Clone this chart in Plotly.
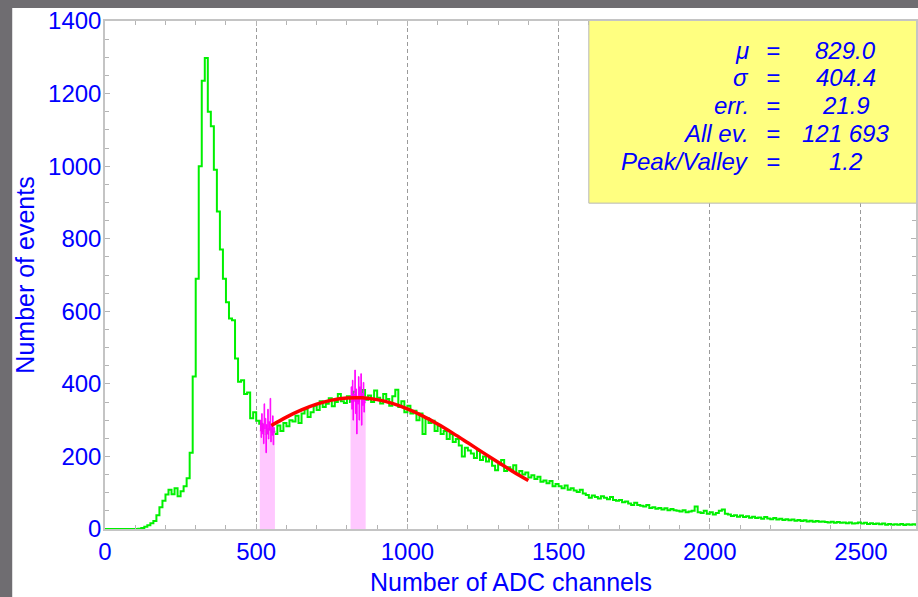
import numpy as np
import plotly.graph_objects as go

# ---------------- data ----------------
BIN_WIDTH = 10  # ADC channels per bin of the main spectrum
spectrum_counts = [
    0, 0, 0, 0, 0, 0, 0, 0, 0, 0, 0,            # 0-100
    1, 3, 6, 10, 16, 22, 38, 60, 78,            # 110-190
    95, 108, 96, 112, 90, 104, 118, 140, 210, 420,   # 200-290
    690, 1000, 1235, 1298, 1150, 1110, 990, 875, 770, 690,  # 300-390
    625, 580, 575, 470, 406, 410, 372, 376, 305, 322,  # 400-490
    298, 290, 270, 262, 275, 268, 262, 285, 270, 292,  # 500-590
    283, 300, 296, 312, 292, 318, 330, 309, 322, 340,  # 600-690
    328, 352, 336, 345, 360, 338, 350, 372, 352, 347,  # 700-790
    366, 350, 378, 352, 360, 383, 356, 368, 350, 382,  # 800-890
    362, 346, 372, 358, 340, 366, 384, 336, 352, 322,  # 900-990
    340, 318, 326, 300, 318, 262, 306, 292, 298, 270,  # 1000-1090
    284, 262, 270, 248, 262, 240, 248, 230, 200, 224,  # 1100-1190
    216, 208, 196, 215, 190, 200, 186, 194, 174, 162,  # 1200-1290
    178, 190, 160, 170, 164, 176, 152, 160, 150, 156,  # 1300-1390
    142, 148, 138, 144, 130, 134, 126, 132, 118, 124,  # 1400-1490
    118, 112, 120, 108, 112, 106, 102, 108, 98, 94,    # 1500-1590
    86, 92, 88, 84, 90, 86, 82, 88, 80, 78,            # 1600-1690
    80, 74, 76, 70, 66, 72, 66, 64, 62, 66,            # 1700-1790
    58, 60, 56, 58, 54, 57, 52, 55, 52, 50,            # 1800-1890
    48, 52, 46, 48, 50, 62, 46, 44, 50, 42,            # 1900-1990
    46, 40, 44, 50, 54, 42, 40, 36, 38, 34,            # 2000-2090
    37, 33, 35, 31, 34, 30, 32, 28, 33, 29,            # 2100-2190
    27, 30, 26, 28, 25, 27, 24, 26, 23, 25,            # 2200-2290
    22, 24, 21, 23, 20, 22, 20, 21, 19, 18,            # 2300-2390
    20, 17, 19, 17, 18, 16, 18, 15, 16, 18,            # 2400-2490
    15, 17, 14, 16, 14, 15, 13, 15, 12, 14,            # 2500-2590
    12, 13, 12, 14, 11, 13, 12, 13, 12,                # 2600-2680
]

# fine-binned counts inside the two selected windows (peak / valley)
WINDOW_BIN = 2
window1_start = 512
window1_counts = [270, 300, 252, 318, 262, 290, 235, 345, 275, 305, 210, 288, 262,
                  330, 248, 296, 272, 360, 240, 286, 258, 312, 232, 280, 266]
window2_start = 812
window2_counts = [350, 392, 330, 410, 300, 372, 352, 438, 318, 386, 262, 366, 344,
                  420, 300, 392, 358, 428, 286, 374, 340, 404, 322, 366, 348]

# gaussian fit curve (sampled)
fit_x = [550, 600, 650, 700, 750, 800, 850, 900, 950, 1000, 1050, 1100, 1150,
         1200, 1250, 1300, 1350, 1400]
fit_y = [285.3, 308.4, 328.2, 344.1, 355.2, 361.1, 361.5, 356.5, 346.1, 331.0,
         311.8, 289.2, 264.2, 237.6, 210.5, 183.7, 157.9, 133.6]

stat_labels = ["μ", "σ", "err.", "All ev.", "Peak/Valley"]
stat_values = ["829.0", "404.4", "21.9", "121 693", "1.2"]

x_title = "Number of ADC channels"
y_title = "Number of events"

# ---------------- figure ----------------
BLUE = "#0000ff"
FONT = "Liberation Sans, Arial, sans-serif"


def step_xy(start, width, counts):
    edges = start + np.arange(len(counts) + 1) * width
    return edges, list(counts) + [counts[-1]]


fig = go.Figure()

sx, sy = step_xy(0, BIN_WIDTH, spectrum_counts)
fig.add_trace(go.Scatter(x=sx, y=sy, mode="lines", line_shape="hv",
                         line=dict(color="#00f000", width=2), hoverinfo="skip"))

for start, counts in [(window1_start, window1_counts), (window2_start, window2_counts)]:
    wx, wy = step_xy(start, WINDOW_BIN, counts)
    fig.add_trace(go.Scatter(x=wx, y=wy, mode="lines", line_shape="hv",
                             line=dict(color="#ff00ff", width=1),
                             fill="tozeroy", fillcolor="rgba(255,190,255,0.85)",
                             hoverinfo="skip"))

fig.add_trace(go.Scatter(x=fit_x, y=fit_y, mode="lines", line_shape="spline",
                         line=dict(color="#ff0000", width=3.5), hoverinfo="skip"))

# stats box
fig.add_shape(type="rect", xref="x", yref="y", x0=1600, x1=2800, y0=898, y1=1410,
              fillcolor="#ffff80", line=dict(color="#b8b8b8", width=1), layer="above")
row_y = [1320, 1244, 1168, 1090, 1012]
for lab, val, yy in zip(stat_labels, stat_values, row_y):
    f = dict(family=FONT, size=24, color=BLUE, style="italic")
    fig.add_annotation(x=2137, y=yy, text=lab, showarrow=False, xanchor="right",
                       yanchor="middle", font=f)
    fig.add_annotation(x=2208, y=yy, text="=", showarrow=False, xanchor="center",
                       yanchor="middle", font=f)
    fig.add_annotation(x=2450, y=yy, text=val, showarrow=False, xanchor="center",
                       yanchor="middle", font=f)

# x axis title (placed as annotation so it can sit low in the margin)
fig.add_annotation(xref="paper", yref="paper", x=0.5, y=(529 - 582) / 508,
                   text=x_title, showarrow=False, xanchor="center", yanchor="middle",
                   font=dict(family=FONT, size=25, color=BLUE))

# grey frame strips (left & top)
fig.add_shape(type="rect", xref="paper", yref="paper", x0=-0.2, x1=(12 - 105) / 813,
              y0=-0.3, y1=1.2, fillcolor="#6f6d71", line_width=0, layer="below")
fig.add_shape(type="rect", xref="paper", yref="paper", x0=-0.2, x1=1.2,
              y0=(529 - 8) / 508, y1=1.2, fillcolor="#6f6d71", line_width=0, layer="below")

axis_common = dict(showline=True, linecolor="#c4c4c4", linewidth=1.5, mirror="allticks",
                   zeroline=False, ticks="inside", ticklen=5, tickcolor="#b4b4b4",
                   tickfont=dict(family=FONT, size=24, color=BLUE))

fig.update_layout(
    width=918, height=597,
    margin=dict(l=105, r=0, t=21, b=68),
    paper_bgcolor="white", plot_bgcolor="white",
    showlegend=False,
    xaxis=dict(range=[0, 2682], dtick=500, showgrid=True, gridcolor="#9a9a9a",
               griddash="4px,3px", gridwidth=1,
               minor=dict(dtick=100, ticks="inside", ticklen=4, tickcolor="#b4b4b4",
                          showgrid=False),
               **axis_common),
    yaxis=dict(range=[0, 1400], dtick=200, showgrid=False, ticklabelstandoff=-3,
               minor=dict(dtick=50, ticks="inside", ticklen=4, tickcolor="#b4b4b4",
                          showgrid=False),
               title=dict(text=y_title, font=dict(family=FONT, size=25, color=BLUE),
                          standoff=6),
               **axis_common),
    yaxis2=dict(overlaying="y", range=[0, 1400], dtick=500, showgrid=True,
                gridcolor="#9a9a9a", griddash="4px,3px", gridwidth=1,
                showticklabels=False, ticks="", showline=False, zeroline=False,
                side="left"),
)

fig.write_html(
    "out.html",
    config={"displayModeBar": False},
    post_script="document.body.style.margin='0';document.body.style.padding='0';"
                "document.body.style.overflow='hidden';",
)
